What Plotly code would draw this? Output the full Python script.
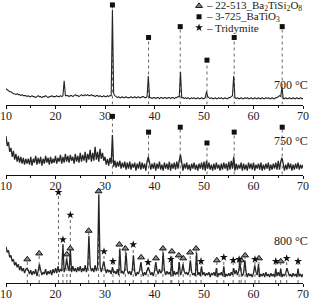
import numpy as np
import plotly.graph_objects as go

# ---------------- data (2-theta grid 10..70 step 0.25) ----------------
two_theta_start = 10.0
two_theta_step = 0.25

i700 = [16,15,14,13,13,12,11,11,10,11,10,10,9,10,9,9,9,8,9,8,
        8,9,8,8,7,8,9,8,8,7,8,8,9,8,7,8,8,9,8,8,
        8,9,8,8,9,8,9,10,9,9,9,8,9,9,8,9,10,9,9,8,
        9,10,9,9,10,9,10,9,9,10,9,9,8,9,9,8,9,8,8,9,
        8,8,9,8,9,9,10,11,9,8,7,8,7,7,8,7,7,8,7,7,
        7,8,7,7,8,7,7,8,7,7,8,8,7,7,8,9,7,7,6,7,
        7,6,7,7,6,7,7,6,7,7,6,7,7,6,7,7,6,7,7,8,
        8,9,7,7,6,7,6,7,6,6,7,6,7,6,6,7,6,6,7,6,
        6,7,7,8,7,6,7,6,6,7,6,6,7,6,7,6,6,7,6,6,
        7,7,8,9,8,7,6,7,6,6,7,6,6,7,6,7,6,6,7,6,
        6,7,6,6,7,6,6,7,6,6,7,6,7,6,6,7,6,6,7,7,
        8,9,8,7,6,6,7,6,6,7,6,6,7,6,6,7,6,6,7,6,
        6]

i750 = [39,29,33,23,27,18,24,15,21,13,19,12,18,11,17,10,16,11,16,10,
        18,9,16,12,19,10,17,11,18,9,16,11,19,12,17,10,18,11,16,12,
        19,11,17,13,20,11,18,12,21,13,19,12,20,14,18,11,21,13,19,12,
        22,13,20,14,23,12,21,15,25,13,22,14,28,15,23,13,26,16,22,14,
        18,10,16,9,17,11,15,8,14,7,13,8,14,6,12,7,13,5,12,6,
        13,5,11,7,12,4,11,6,13,5,12,6,11,4,13,6,12,5,11,6,
        12,4,11,6,13,5,10,4,12,6,11,5,13,4,11,6,12,5,13,6,
        14,5,12,4,11,6,12,5,10,4,11,6,12,5,10,4,11,6,12,5,
        13,4,11,6,12,5,10,4,11,5,12,6,10,4,11,5,12,6,11,4,
        13,5,14,6,12,4,11,5,10,6,12,4,11,5,10,4,12,6,11,5,
        12,4,10,6,11,5,12,4,10,5,11,6,12,4,10,5,11,6,12,5,
        14,5,13,6,11,4,10,5,12,6,11,4,10,5,11,6,12,5,10,6,
        10]

i800 = [37,31,33,26,28,22,24,18,21,16,19,13,17,12,15,10,14,11,13,9,
        13,8,12,9,14,7,12,9,13,8,11,9,14,8,12,9,13,8,14,10,
        15,10,16,11,14,12,17,11,15,10,16,12,14,11,17,12,15,11,16,12,
        17,11,15,12,18,11,16,13,17,12,15,11,18,12,16,13,17,11,16,12,
        15,10,14,11,13,9,14,10,12,9,14,8,13,10,12,9,14,8,13,9,
        12,8,13,9,12,7,11,9,13,8,12,7,11,8,13,9,12,8,11,7,
        12,8,13,9,14,10,12,9,13,8,12,9,11,8,13,7,12,8,11,9,
        12,8,11,7,12,9,11,8,12,7,11,8,10,7,12,8,11,7,10,8,
        11,7,10,8,11,6,10,8,11,7,9,6,10,8,11,7,10,6,9,7,
        10,7,11,8,12,9,13,8,12,9,11,7,10,8,11,6,10,7,9,6,
        10,7,11,8,10,6,9,7,10,6,11,7,9,6,10,7,9,6,10,7,
        11,7,10,6,9,7,10,6,11,7,9,6,10,7,9,6,10,7,9,6,
        9]

# diffraction peaks (position, intensity)
peaks700_pos = [21.75, 31.5, 38.75, 45.25, 50.5, 56.0, 65.75]
peaks700_int = [24, 96, 29, 33, 13, 29, 18]
peaks750_pos = [31.5, 38.75, 45.25, 50.5, 56.0, 65.75]
peaks750_int = [40, 18, 20, 14, 18, 17]
peaks800_pos = [14.25, 16.75, 20.5, 21.5, 22.25, 23.0, 26.75, 28.75, 29.75, 31.5,
                33.0, 34.25, 35.75, 37.25, 38.75, 40.25, 41.75, 43.5, 45.0, 45.75,
                47.25, 48.5, 49.5, 52.5, 54.0, 56.0, 57.25, 58.25, 60.25, 61.0,
                64.5, 65.5, 66.75, 69.0]
peaks800_int = [15, 19, 17, 39, 25, 34, 48, 90, 22, 16,
                35, 31, 28, 21, 16, 21, 31, 25, 21, 19,
                23, 31, 17, 15, 17, 15, 21, 23, 18, 19,
                14, 14, 15, 14]

# phase markers
bt_pos = [31.5, 38.8, 45.2, 50.6, 56.1, 65.8]          # 3-725 BaTiO3
bt700_y = [101, 68, 79, 45, 68, 79]
bt750_y = [59, 43, 48, 32, 43, 48]
bts_pos = [14.3, 16.7, 22.3, 23.0, 26.7, 28.7, 32.9, 34.1, 37.3, 40.3, 41.7,
           43.5, 44.9, 45.8, 47.2, 48.4, 52.6, 57.5, 58.3, 61.1, 65.5]   # Ba2TiSi2O8
bts_y = [24, 30, 29, 35, 53, 93, 39, 35, 26, 25, 35,
         32, 28, 25, 31, 35, 23, 23, 28, 25, 22]
tri_pos = [20.6, 21.5, 23.0, 29.8, 31.6, 35.7, 38.7, 43.3, 49.4, 54.0,
           55.9, 57.1, 60.3, 64.5, 66.7, 69.0]                         # Tridymite
tri_y = [92, 44, 69, 32, 22, 39, 21, 24, 22, 26,
         23, 24, 24, 22, 25, 22]

legend_labels = ["– 22-513_Ba<sub>2</sub>TiSi<sub>2</sub>O<sub>8</sub>",
                 "– 3-725_BaTiO<sub>3</sub>",
                 "– Tridymite"]
temp_labels = ["700 °C", "750 °C", "800 °C"]

# ---------------- build ----------------
def pattern(base, ppos, pint):
    x = two_theta_start + two_theta_step * np.arange(len(base))
    y = np.array(base, dtype=float)
    for p, h in zip(ppos, pint):
        k = int(round((p - two_theta_start) / two_theta_step))
        y[k] = max(y[k], h)
    return x, y

def stems(pos, ys):
    xs, yy = [], []
    for p, v in zip(pos, ys):
        xs += [p, p, None]
        yy += [0, v - 2, None]
    return xs, yy

LINE = "#262626"
DOT = dict(color="#666666", width=1, dash="dot")
SERIF = "Liberation Serif, Times New Roman, serif"

fig = go.Figure()
panels = [("x", "y"), ("x2", "y2"), ("x3", "y3")]

# stems first
for (xa, ya), pos, ys in [(panels[0], bt_pos, bt700_y), (panels[1], bt_pos, bt750_y),
                          (panels[2], bts_pos, bts_y), (panels[2], tri_pos, tri_y)]:
    sx, sy = stems(pos, ys)
    fig.add_trace(go.Scatter(x=sx, y=sy, mode="lines", line=DOT, xaxis=xa, yaxis=ya,
                             hoverinfo="skip", showlegend=False))

for (xa, ya), base, pp, pi, lw in [(panels[0], i700, peaks700_pos, peaks700_int, 1.1),
                                   (panels[1], i750, peaks750_pos, peaks750_int, 1.3),
                                   (panels[2], i800, peaks800_pos, peaks800_int, 1.3)]:
    x, y = pattern(base, pp, pi)
    fig.add_trace(go.Scatter(x=x, y=y, mode="lines", line=dict(color=LINE, width=lw),
                             xaxis=xa, yaxis=ya, showlegend=False))

SQ = dict(symbol="square", size=5, color="#111111")
TR = dict(symbol="triangle-up", size=6, color="#8a8a8a", line=dict(color="#111111", width=1))
ST = dict(symbol="star", size=6, color="#111111")

fig.add_trace(go.Scatter(x=bt_pos, y=bt700_y, mode="markers", marker=SQ, cliponaxis=False,
                         xaxis="x", yaxis="y", showlegend=False))
fig.add_trace(go.Scatter(x=bt_pos, y=bt750_y, mode="markers", marker=SQ, cliponaxis=False,
                         xaxis="x2", yaxis="y2", showlegend=False))
fig.add_trace(go.Scatter(x=bts_pos, y=bts_y, mode="markers", marker=TR, cliponaxis=False,
                         xaxis="x3", yaxis="y3", showlegend=False))
fig.add_trace(go.Scatter(x=tri_pos, y=tri_y, mode="markers", marker=ST, cliponaxis=False,
                         xaxis="x3", yaxis="y3", showlegend=False))

# legend (drawn inside the top panel)
leg_x = 49.0
leg_y = [100, 89, 78]
for m, yv in zip([TR, SQ, ST], leg_y):
    fig.add_trace(go.Scatter(x=[leg_x], y=[yv], mode="markers", marker=m, cliponaxis=False,
                             xaxis="x", yaxis="y", showlegend=False))
annotations = []
for lab, yv in zip(legend_labels, leg_y):
    annotations.append(dict(x=leg_x + 1.0, y=yv, xref="x", yref="y", text=lab, showarrow=False,
                            xanchor="left", yanchor="middle",
                            font=dict(family=SERIF, size=11, color="#222222")))
PX0, PW = 6.0, 297.0
for lab, ya, yv in zip(temp_labels, ["y", "y2", "y3"], [20, 34, 43]):
    annotations.append(dict(x=(310 - PX0) / PW, y=yv, xref="paper", yref=ya, text=lab,
                            showarrow=False, xanchor="right", yanchor="middle",
                            font=dict(family=SERIF, size=12, color="#222222")))

def xax(anchor):
    return dict(anchor=anchor, range=[10, 70], dtick=10, tick0=10, showline=True,
                linecolor="#111111", linewidth=1, ticks="outside", ticklen=3, tickcolor="#111111",
                showgrid=False, zeroline=False, ticklabelstandoff=-3,
                minor=dict(dtick=5, ticks="outside", ticklen=2, tickcolor="#111111"),
                tickfont=dict(family=SERIF, size=12, color="#222222"))

def yax(domain, top):
    return dict(domain=domain, range=[0, top], visible=False, fixedrange=True)

H = 287.0
fig.update_layout(
    width=312, height=301,
    margin=dict(l=6, r=9, t=0, b=14),
    paper_bgcolor="white", plot_bgcolor="white",
    xaxis=xax("y"), yaxis=yax([181 / H, 1.0], 106),
    xaxis2=xax("y2"), yaxis2=yax([110 / H, 175 / H], 65),
    xaxis3=xax("y3"), yaxis3=yax([0.0, 97 / H], 97),
    annotations=annotations,
    showlegend=False,
)

fig.write_html("out.html")
